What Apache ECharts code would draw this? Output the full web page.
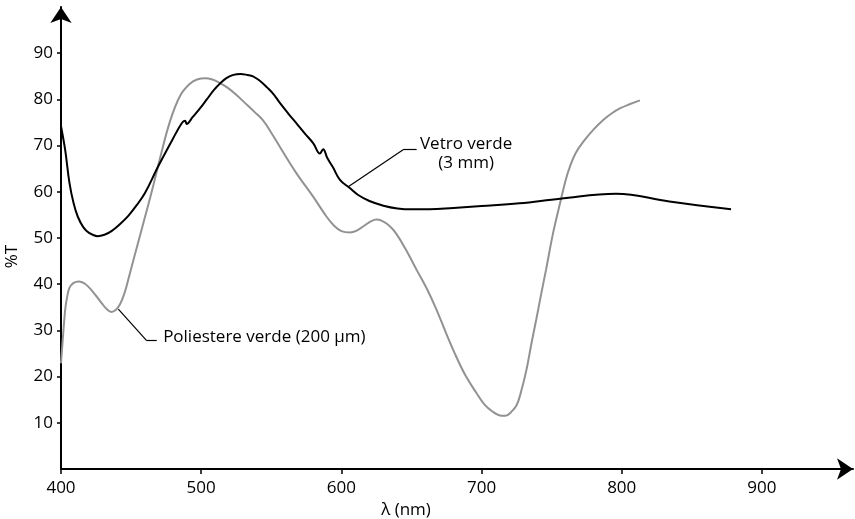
<!DOCTYPE html>
<html>
<head>
<meta charset="utf-8">
<script src="https://cdn.jsdelivr.net/npm/echarts@6/dist/echarts.min.js"></script>
<style>
	html, body { margin: 0; padding: 0; background: #fff; }
	#chart { width: 855px; height: 519px; }
</style>
</head>
<body>
<div id="chart"></div>
<script>
	// wavelength (nm), %T
	let vetroVerde = [
		[400,74.2],[403,69],[406,62],[409,57.5],[412,54.6],[416,52.3],[420,51.1],[426,50.4],[431,50.7],
		[436,51.5],[442,53],[448,54.8],[454,57.1],[460,59.8],[469,65.3],[479,71],[486,74.8],[488.5,75.4],
		[489.6,74.7],[494,76.2],[499,78],[504,80],[509,82],[514,83.6],[518,84.6],[523,85.3],[528,85.5],
		[533,85.3],[537,85],[542,84],[547,82.6],[552,81],[556,79.3],[562,77],[568,74.8],[574,72.6],
		[580,70.5],[584.7,68.3],[587,69.2],[590,67.3],[594,65.3],[599,62.6],[606,60.8],[612,59.3],
		[620,58],[630,57],[640,56.4],[650,56.2],[663,56.2],[680,56.5],[700,56.9],[727,57.5],[756,58.5],
		[796,59.6],[834,57.9],[878,56.2]
	];

	let poliestereVerde = [
		[400,22.9],[401,27],[402,31],[403,34.5],[404,36.6],[406,39.2],[409,40.3],[413,40.6],[417,40.1],
		[420,39.3],[425,37.5],[429,35.9],[433,34.5],[436,34],[439,34.4],[442,35.6],[445,37.8],[448,41],
		[452,45.6],[457.5,51.8],[464.7,60],[470.6,67.2],[477.7,75.2],[485,80.8],[492,83.4],[497,84.3],
		[503,84.6],[508,84.3],[513,83.6],[519,82.5],[525,81],[531,79.3],[538,77.3],[544,75.5],[550,72.8],
		[556,69.8],[568,64],[580,58.9],[589.5,54.6],[595,52.6],[600,51.5],[606,51.2],[611,51.6],[616,52.6],
		[621,53.6],[625,54],[629,53.7],[634,52.7],[639,51],[646,47.5],[653.7,43.1],[661,39],[668,34.4],
		[675,29.2],[682,24.3],[689,20],[696.5,16.4],[702,14],[708,12.4],[713,11.6],[717,11.5],[721,12.3],
		[725,13.8],[728,16.5],[732,21.4],[735.5,27],[739,32.3],[742.5,37.8],[746,43.1],[751,51],[756,57.5],
		[760,62.5],[763,65.4],[767,68.3],[772.5,70.8],[780,73.5],[787,75.6],[793,77],[799,78.1],[806,79],
		[813,79.8]
	];

	let xTicks = [400, 500, 600, 700, 800, 900];
	let yTicks = [10, 20, 30, 40, 50, 60, 70, 80, 90];

	// leader lines and label anchors, in data units
	let vetroLeader = [[604.9, 61.1], [644.6, 69.2], [653.7, 69.2]];
	let vetroLabelAt = [689, 68.2];
	let poliLeader = [[440.9, 34.6], [461.1, 27.8], [468.3, 27.8]];
	let poliLabelAt = [472.5, 28.5];

	const FONT = '"Open Sans", sans-serif';
	const FS = 17;

	let leaderLines = function(pts){
		let out = [];
		for(let i = 0; i < pts.length - 1; i++){
			out.push([{ coord: pts[i] }, { coord: pts[i + 1] }]);
		}
		return out;
	};

	let chart = echarts.init(document.getElementById('chart'), null, { renderer: 'canvas' });

	chart.setOption({
		animation: false,
		backgroundColor: '#fff',
		grid: {
			left: 61,
			right: 2,
			top: 7,
			bottom: 50,
			containLabel: false,
			outerBoundsMode: 'none'
		},
		xAxis: {
			type: 'value',
			min: 400,
			max: 965,
			interval: 100,
			name: 'λ (nm)',
			nameLocation: 'middle',
			nameGap: 25,
			nameTextStyle: { color: '#000', fontSize: FS, fontFamily: FONT, padding: [0, 102, 0, 0] },
			splitLine: { show: false },
			axisLine: {
				show: true,
				onZero: false,
				symbol: ['none', 'arrow'],
				symbolSize: [16, 16],
				lineStyle: { color: '#000', width: 2 }
			},
			axisTick: { show: true, length: 5, customValues: xTicks, lineStyle: { color: '#000', width: 1.5 } },
			axisLabel: { color: '#000', fontSize: FS, fontFamily: FONT, margin: 11, customValues: xTicks }
		},
		yAxis: {
			type: 'value',
			min: 0,
			max: 100,
			interval: 10,
			name: '%T',
			nameLocation: 'middle',
			nameGap: 40,
			nameRotate: 90,
			nameTextStyle: { color: '#000', fontSize: FS, fontFamily: FONT, padding: [0, 37, 0, 0] },
			splitLine: { show: false },
			axisLine: {
				show: true,
				onZero: false,
				symbol: ['none', 'arrow'],
				symbolSize: [16, 16],
				lineStyle: { color: '#000', width: 2 }
			},
			axisTick: { show: true, length: 4, customValues: yTicks, lineStyle: { color: '#000', width: 1.5 } },
			axisLabel: { color: '#000', fontSize: FS, fontFamily: FONT, margin: 8, customValues: yTicks }
		},
		series: [{
			name: 'Vetro verde (3 mm)',
			type: 'line',
			data: vetroVerde,
			smooth: 0.4,
			showSymbol: false,
			lineStyle: { color: '#000', width: 2 },
			itemStyle: { color: '#000' },
			z: 3,
			markLine: {
				silent: true,
				symbol: ['none', 'none'],
				label: { show: false },
				lineStyle: { color: '#000', width: 1.2, type: 'solid' },
				data: leaderLines(vetroLeader)
			},
			markPoint: {
				silent: true,
				symbol: 'circle',
				symbolSize: 1,
				itemStyle: { color: 'rgba(0,0,0,0)' },
				label: {
					show: true,
					position: 'inside',
					formatter: 'Vetro verde\n(3 mm)',
					color: '#000',
					fontSize: FS,
					lineHeight: 19,
					align: 'center',
					fontFamily: FONT
				},
				data: [{ coord: vetroLabelAt }]
			}
		}, {
			name: 'Poliestere verde (200 μm)',
			type: 'line',
			data: poliestereVerde,
			smooth: 0.4,
			showSymbol: false,
			lineStyle: { color: '#929292', width: 2 },
			itemStyle: { color: '#929292' },
			z: 2,
			markLine: {
				silent: true,
				symbol: ['none', 'none'],
				label: { show: false },
				lineStyle: { color: '#000', width: 1.2, type: 'solid' },
				data: leaderLines(poliLeader)
			},
			markPoint: {
				silent: true,
				symbol: 'circle',
				symbolSize: 1,
				itemStyle: { color: 'rgba(0,0,0,0)' },
				label: {
					show: true,
					position: 'right',
					distance: 0,
					formatter: 'Poliestere verde (200 μm)',
					color: '#000',
					fontSize: FS,
					fontFamily: FONT
				},
				data: [{ coord: poliLabelAt }]
			}
		}]
	});
</script>
</body>
</html>
